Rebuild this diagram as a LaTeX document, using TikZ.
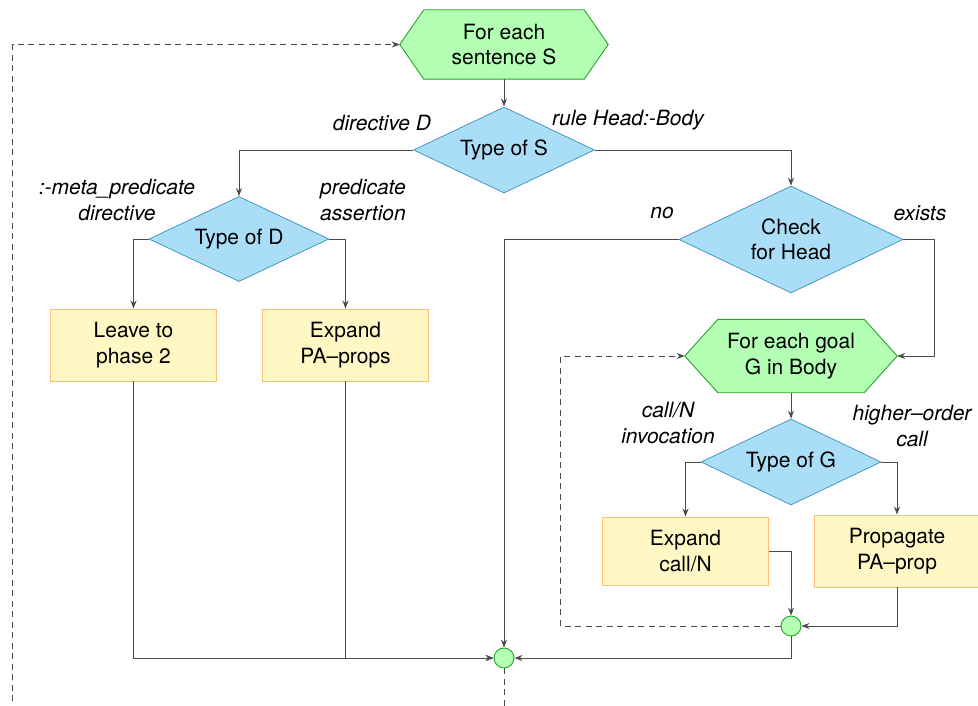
\documentclass[tikz,border=0pt]{standalone}
\usepackage{fontspec}
\setmainfont{TeX Gyre Heros}
\usetikzlibrary{arrows.meta,shapes.geometric,backgrounds,calc}

\definecolor{loopfill}{RGB}{179,255,179}
\definecolor{loopline}{RGB}{40,165,40}
\definecolor{decfill}{RGB}{170,222,248}
\definecolor{decline}{RGB}{70,150,195}
\definecolor{actfill}{RGB}{255,248,196}
\definecolor{actline}{RGB}{255,190,120}
\definecolor{wire}{RGB}{75,75,75}

\tikzset{
  x=1pt, y=-1pt,
  every node/.style={font=\fontsize{21}{25.5}\selectfont},
  loopnode/.style={rectangle, draw=none, align=center, inner sep=0pt},
  loopshape/.style={draw=loopline, fill=loopfill, line width=0.9pt, line join=miter},
  decision/.style={diamond, aspect=2.1, draw=decline, fill=decfill, line width=0.8pt,
    align=center, inner sep=0pt},
  action/.style={rectangle, draw=actline, fill=actfill, line width=0.9pt,
    align=center, minimum width=166pt},
  joint/.style={circle, draw=loopline, fill=loopfill, line width=0.9pt,
    minimum size=20pt, inner sep=0pt},
  lbl/.style={font=\fontsize{21}{25.5}\selectfont\itshape, align=center, inner sep=0pt},
  flow/.style={draw=wire, line width=0.9pt, -{Stealth[length=8pt,width=6pt]}},
  backflow/.style={draw=wire, line width=0.9pt, dash pattern=on 6pt off 4.5pt,
    -{Stealth[length=8pt,width=6pt]}},
}

\begin{document}
\begin{tikzpicture}
\useasboundingbox (0,0) rectangle (978,706);

% loop heads (hexagons drawn behind their text nodes)
\node[loopnode, minimum width=208pt, minimum height=69pt] (hexS) at (504,44.5)
  {For each\\sentence S};
\node[loopnode, minimum width=212pt, minimum height=73pt] (hexG) at (791,356)
  {For each goal\\G in Body};
\begin{scope}[on background layer]
  \draw[loopshape] (hexS.west) -- ([xshift=24pt]hexS.north west)
    -- ([xshift=-24pt]hexS.north east) -- (hexS.east)
    -- ([xshift=-24pt]hexS.south east) -- ([xshift=24pt]hexS.south west) -- cycle;
  \draw[loopshape] (hexG.west) -- ([xshift=33pt]hexG.north west)
    -- ([xshift=-33pt]hexG.north east) -- (hexG.east)
    -- ([xshift=-33pt]hexG.south east) -- ([xshift=33pt]hexG.south west) -- cycle;
\end{scope}

% decisions
\node[decision, minimum width=181pt, minimum height=86pt] (typeS) at (504,150) {Type of S};
\node[decision, minimum width=180pt, minimum height=85pt] (typeD) at (239,239) {Type of D};
\node[decision, minimum width=224pt, minimum height=107pt] (head) at (791,239.5) {Check\\for Head};
\node[decision, minimum width=180pt, minimum height=86pt] (typeG) at (791,462) {Type of G};

% actions
\node[action, minimum height=72pt] (leave) at (133.5,345) {Leave to\\phase 2};
\node[action, minimum height=72pt] (expPA) at (345.5,345) {Expand\\PA–props};
\node[action, minimum height=68pt] (expCall) at (685.5,551) {Expand\\call/N};
\node[action, minimum height=72pt] (prop) at (897,551) {Propagate\\PA–prop};

% join points
\node[joint] (joinG) at (791,626) {};
\node[joint] (joinS) at (504,658) {};

% branch labels
\node[lbl] at (382,123) {directive D};
\node[lbl] at (628,120) {rule Head:-Body};
\node[lbl] at (117,200) {:-meta\_predicate\\directive};
\node[lbl] at (363,200) {predicate\\assertion};
\node[lbl] at (662,213) {no};
\node[lbl] at (920,213) {exists};
\node[lbl] at (668,423) {call/N\\invocation};
\node[lbl] at (912,426) {higher–order\\call};

% connectors
\draw[flow] (hexS.south) -- (typeS.north);
\draw[flow] (typeS.west) -| (typeD.north);
\draw[flow] (typeS.east) -| (head.north);
\draw[flow] (typeD.west) -| (leave.north);
\draw[flow] (typeD.east) -| (expPA.north);
\draw[flow] (head.west) -| (joinS.north);
\draw[flow] (head.east) -- ++(31,0) |- (hexG.east);
\draw[flow] (hexG.south) -- (typeG.north);
\draw[flow] (typeG.west) -| (expCall.north);
\draw[flow] (typeG.east) -| (prop.north);
\draw[flow] (expCall.east) -| (joinG.north);
\draw[flow] (prop.south) |- (joinG.east);
\draw[flow] (joinG.south) |- (joinS.east);
\draw[flow] (leave.south) |- (joinS.west);
\draw[flow] (expPA.south) |- (joinS.west);

% loop-back edges
\draw[backflow] (joinG.west) -- ++(-220,0) |- (hexG.west);
\draw[backflow] (joinS.south) -- ++(0,70) -| ([xshift=-387pt]hexS.west) -- (hexS.west);
\end{tikzpicture}
\end{document}
